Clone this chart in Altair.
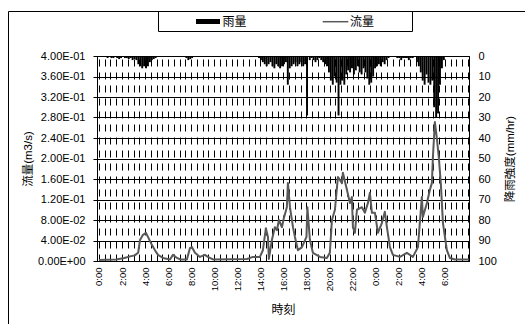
import altair as alt
import pandas as pd

# ---- flow (m3/s) readings: hour since first 0:00, value ----
flow_hours = [0.0, 1.5, 2.2, 2.7, 3.1, 3.4, 3.56, 3.82, 4.08, 4.25, 4.6, 4.86, 5.12, 5.55,
              6.16, 6.42, 6.77, 7.03, 7.63, 7.89, 8.07, 8.33, 8.76, 9.19, 9.45, 9.89,
              12.84, 13.36, 13.96, 14.22, 14.48, 14.66, 14.74, 15.0, 15.26, 15.44, 15.61,
              15.87, 16.04, 16.3, 16.39, 16.57, 16.83, 17.0, 17.26, 17.61, 18.0, 18.08,
              18.3, 18.56, 19.17, 19.77, 20.03, 20.21, 20.47, 20.73, 21.08, 21.16, 21.51,
              21.77, 21.94, 22.03, 22.2, 22.38, 22.81, 23.07, 23.33, 23.5, 23.68, 23.94,
              24.2, 24.54, 24.8, 24.98, 25.24, 25.5, 26.11, 26.71, 27.23, 27.67, 28.01,
              28.1, 28.45, 28.71, 28.88, 28.97, 29.14, 29.31, 29.49, 29.66, 29.84, 30.18,
              30.44, 30.88, 32.1]
flow_values = [0.002, 0.003, 0.006, 0.009, 0.011, 0.016, 0.041, 0.051, 0.055, 0.047, 0.031,
               0.021, 0.012, 0.006, 0.003, 0.012, 0.006, 0.003, 0.003, 0.025, 0.027, 0.016,
               0.008, 0.012, 0.008, 0.003, 0.004, 0.008, 0.008, 0.021, 0.064, 0.047, 0.004,
               0.041, 0.066, 0.060, 0.080, 0.066, 0.084, 0.105, 0.152, 0.105, 0.066, 0.047,
               0.021, 0.027, 0.047, 0.105, 0.041, 0.016, 0.008, 0.006, 0.016, 0.080, 0.100,
               0.164, 0.152, 0.172, 0.139, 0.113, 0.125, 0.066, 0.055, 0.100, 0.105, 0.094,
               0.113, 0.133, 0.094, 0.094, 0.055, 0.074, 0.096, 0.066, 0.027, 0.012, 0.008,
               0.016, 0.008, 0.027, 0.125, 0.086, 0.113, 0.139, 0.152, 0.203, 0.271, 0.240,
               0.200, 0.150, 0.074, 0.021, 0.006, 0.003, 0.003]

# ---- rain intensity (mm/hr), 10-minute values in clusters ----
rain_starts = [0.5, 3.0, 7.5, 13.8, 18.2, 25.8, 27.5]
rain_a = [0.5, 1, 0.5, 1, 1, 0.5, 1, 1.5, 1, 0.5, 1, 1, 1.5, 1, 2]
rain_b = [1.5, 2, 4, 5, 6, 5, 6, 5, 3, 2, 1.5, 1]
rain_c = [1, 2, 1.5, 1]
rain_d = [1, 2, 3, 4, 5, 4, 3, 5, 6, 4, 5, 6, 5, 4, 3, 14, 6, 5, 4, 3, 5, 4, 3, 5, 4, 29]
rain_e = [2, 1, 2, 3, 2, 1, 2, 3, 4, 5, 8, 12, 14, 10, 13, 29, 14, 12, 14, 9, 7, 8, 6, 9,
          7, 5, 8, 9, 6, 8, 11, 14, 13, 10, 6, 5, 4, 5, 3, 4, 2, 1]
rain_f = [1, 1, 2, 1, 1, 1, 2, 1, 1]
rain_g = [3, 5, 8, 12, 14, 9, 13, 14, 12, 25, 30, 28, 14, 6, 2]
rain_clusters = [rain_a, rain_b, rain_c, rain_d, rain_e, rain_f, rain_g]

legend_labels = ["雨量", "流量"]
left_ticks = [0, 0.04, 0.08, 0.12, 0.16, 0.2, 0.24, 0.28, 0.32, 0.36, 0.4]
right_ticks = [0, 10, 20, 30, 40, 50, 60, 70, 80, 90, 100]
x_ticks = [i * 0.5 for i in range(65)]

df_flow = pd.DataFrame({"h": flow_hours, "flow": flow_values})
rows = []
for start, vals in zip(rain_starts, rain_clusters):
    for i, v in enumerate(vals):
        rows.append({"h": start + i / 6, "h2": start + (i + 1) / 6, "rain": v})
df_rain = pd.DataFrame(rows)

FONT = "'Liberation Sans', 'Noto Sans CJK JP', sans-serif"

x_scale = alt.Scale(domain=[-0.17, 32.1], nice=False, zero=False)
x_axis = alt.Axis(
    values=x_ticks,
    labelExpr="(datum.value % 2 == 0 && datum.value <= 30) ? (datum.value % 24) + ':00' : ''",
    labelAngle=270, labelFontSize=9.5, labelPadding=6, labelOverlap=False,
    ticks=False, grid=True, gridDash=[7, 6], gridColor="black", gridWidth=1,
    domainColor="black", title="時刻", titleX=186, titleY=48,
    titleBaseline="middle", titleFontSize=12, titleFontWeight="normal",
)

flow_axis = alt.Axis(
    orient="left", values=left_ticks,
    labelExpr="replace(replace(format(datum.value, '.2e'), 'e-', 'E-0'), 'e+', 'E+0')",
    grid=True, gridColor="black", gridWidth=1, tickSize=4, tickColor="black",
    labelPadding=8, labelFontSize=11, domainColor="black",
    title="流量(m3/s)", titleAngle=270, titleX=-69, titleY=102.5,
    titleBaseline="middle", titleFontSize=11.5, titleFontWeight="normal",
)
rain_axis = alt.Axis(
    orient="right", values=right_ticks, grid=False, ticks=False,
    labelPadding=9, labelFontSize=11, labelAlign="left", domainColor="black",
    title="降雨強度(mm/hr)", titleAngle=270, titleX=41, titleY=102.5,
    titleBaseline="middle", titleFontSize=11.5, titleFontWeight="normal",
)

bars = alt.Chart(df_rain).mark_rect(color="black").encode(
    x=alt.X("h:Q", scale=x_scale, axis=x_axis),
    x2="h2:Q",
    y=alt.Y("rain:Q", scale=alt.Scale(domain=[0, 100], reverse=True, nice=False), axis=rain_axis),
    y2=alt.datum(0),
)

line = alt.Chart(df_flow).mark_line(color="#595959", strokeWidth=2, strokeJoin="round").encode(
    x=alt.X("h:Q", scale=x_scale, axis=x_axis),
    y=alt.Y("flow:Q", scale=alt.Scale(domain=[0, 0.4], nice=False), axis=flow_axis),
)

one = pd.DataFrame({"k": [0]})
frame = alt.Chart(one).mark_rect(fill="white", fillOpacity=0, stroke="black", strokeWidth=1).encode(
    x=alt.value(-88.5), x2=alt.value(470), y=alt.value(-44.5), y2=alt.value(300)
)
legend_box = alt.Chart(one).mark_rect(fill="white", stroke="black", strokeWidth=1).encode(
    x=alt.value(61.5), x2=alt.value(315.5), y=alt.value(-44.5), y2=alt.value(-24.5)
)
legend_bar = alt.Chart(one).mark_rect(fill="black").encode(
    x=alt.value(99), x2=alt.value(123), y=alt.value(-37), y2=alt.value(-32)
)
legend_line = alt.Chart(one).mark_rule(stroke="#595959", strokeWidth=1.5).encode(
    x=alt.value(225.7), x2=alt.value(251.3), y=alt.value(-34.3)
)
legend_t1 = alt.Chart(pd.DataFrame({"label": [legend_labels[0]]})).mark_text(
    align="left", baseline="middle", fontSize=12, font=FONT, color="black"
).encode(x=alt.value(125.5), y=alt.value(-34.3), text="label:N")
legend_t2 = alt.Chart(pd.DataFrame({"label": [legend_labels[1]]})).mark_text(
    align="left", baseline="middle", fontSize=12, font=FONT, color="black"
).encode(x=alt.value(253), y=alt.value(-34.3), text="label:N")

chart = alt.layer(
    frame, legend_box, legend_bar, legend_line, legend_t1, legend_t2, bars, line
).resolve_scale(y="independent").properties(
    width=372, height=205,
    padding={"left": 97, "top": 56, "right": 56, "bottom": 63},
    autosize=alt.AutoSizeParams(type="none"),
    background="white",
).configure_view(stroke="black", strokeWidth=1).configure_axis(
    labelFont=FONT, titleFont=FONT, labelColor="black", titleColor="black"
)

chart.save("out.html", embed_options={"renderer": "svg", "actions": False})
